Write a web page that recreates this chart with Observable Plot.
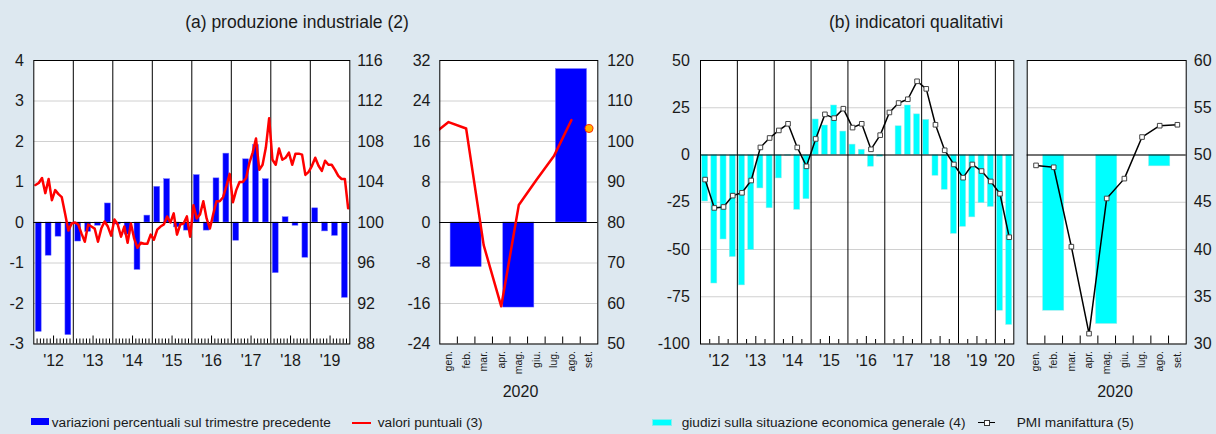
<!DOCTYPE html>
<html><head><meta charset="utf-8">
<script src="https://cdn.jsdelivr.net/npm/d3@7"></script>
<script src="https://cdn.jsdelivr.net/npm/@observablehq/plot@0.6"></script>
<style>
body{margin:0;background:#dde8f0;}
#root{position:relative;width:1216px;height:434px;background:#dde8f0;font-family:"Liberation Sans",Arial,Helvetica,sans-serif;color:#1a1a1a;overflow:hidden}
.abs{position:absolute;white-space:nowrap}
.title{font-size:17.5px;top:11px;line-height:22px;transform:translateX(-50%)}
.leg{font-size:13.7px;line-height:16px;top:414.7px}
.yr{font-size:16px;line-height:20px;top:381.7px;transform:translateX(-50%)}
</style></head><body><div id="root">
<div class="abs title" style="left:297px">(a) produzione industriale (2)</div>
<div class="abs title" style="left:916px">(b) indicatori qualitativi</div>
<div class="abs" id="p1" style="left:0;top:45px"></div>
<div class="abs" id="p2" style="left:395px;top:45px"></div>
<div class="abs" id="p3" style="left:650px;top:45px"></div>
<div class="abs" id="p4" style="left:1020px;top:45px"></div>
<div class="abs yr" style="left:520.5px">2020</div>
<div class="abs yr" style="left:1115px">2020</div>
<div class="abs" style="left:31px;top:418.3px;width:18.3px;height:6.7px;background:#0000ff"></div>
<div class="abs leg" style="left:51.7px">variazioni percentuali sul trimestre precedente</div>
<div class="abs" style="left:351.7px;top:422.3px;width:19px;height:2px;background:#ff0000"></div>
<div class="abs leg" style="left:377.7px">valori puntuali (3)</div>
<div class="abs" style="left:652.3px;top:419px;width:17.4px;height:5.4px;background:#00ffff;border:0.6px solid #8ee"></div>
<div class="abs leg" style="left:681.7px">giudizi sulla situazione economica generale (4)</div>
<div class="abs" style="left:978.3px;top:422.2px;width:16.7px;height:1.2px;background:#000"></div>
<div class="abs" style="left:984px;top:420px;width:4.4px;height:4.4px;background:#fff;border:0.8px solid #333"></div>
<div class="abs leg" style="left:1016.7px">PMI manifattura (5)</div>
</div>
<script>
// ---- data ----
const years1 = ["'12","'13","'14","'15","'16","'17","'18","'19"];
const years3 = ["'12","'13","'14","'15","'16","'17","'18","'19","'20"];
const months2020 = ["gen.","feb.","mar.","apr.","mag.","giu.","lug.","ago.","set."];

// production index, monthly 2012-2019 (right axis)
const prodMonthly = [
103.7,103.9,104.4,102.9,104.3,102.2,103.2,102.8,102.5,100.9,99.2,99.9,
100.0,99.8,98.9,98.1,99.8,99.6,99.4,98.1,99.4,100.1,99.6,98.7,
100.3,99.8,98.6,99.6,98.0,99.9,98.4,97.5,98.0,97.9,97.9,98.8,
98.3,99.3,99.6,99.8,100.6,100.0,100.9,98.8,99.8,99.9,100.6,98.6,
101.7,100.4,100.8,102.1,100.4,99.4,100.8,102.1,102.1,102.5,103.6,104.8,
102.0,103.2,104.0,104.0,104.4,105.9,106.9,108.3,105.2,105.7,107.4,110.3,
106.2,105.7,107.3,106.2,106.4,106.9,105.7,106.8,106.8,106.7,104.7,105.0,
105.6,106.4,105.6,105.1,106.1,105.7,105.7,105.2,104.6,104.3,104.3,101.4];
// quarter-on-quarter % change 2012-2019 (left axis)
const prodQuarterly = [
-2.70,-0.82,-0.35,-2.78, -0.47,-0.23,-0.08,0.47, -0.05,-0.30,-1.17,0.17,
0.88,1.07,-0.12,-0.20, 1.17,-0.20,1.09,1.70, -0.45,1.56,1.91,1.07,
-1.25,0.13,-0.08,-0.87, 0.35,-0.22,-0.33,-1.86];
// 2020: dic 2019 + gen..ago monthly index, set. estimate, quarterly change
const prod2020Monthly = [101.4,104.8,103.2,74.4,59.3,84.3,90.5,96.4,105.3];
const prod2020Sept = [103.2];
const prod2020Quarterly = [-8.8,-16.8,30.3];

// qualitative indicators 2012Q1-2020Q2
const giudiziQuarterly = [
-24.6,-68,-44.7,-54, -69,-50.3,-17.7,-28.2, -12.4,-0.5,-29,-23.4,
18.8,15.6,26.2,12.4, 5.5,2.8,-6.2,-0.9, 0,15.2,26.2,21.5,
18.6,-11,-18.4,-41.7, -38,-33,-25.5,-27.5, -82.4,-89.9];
const pmiQuarterly = [
47.4,44.4,44.5,45.7, 46.0,47.3,50.8,51.8, 52.6,53.3,50.8,48.8,
51.7,54.3,53.9,54.9, 52.9,53.3,50.6,52.1, 54.5,55.5,55.9,57.8,
57.0,53.2,50.5,49.0, 47.6,49.0,48.3,47.2, 45.9,41.3];
const giudizi2020 = [-82.4,-89.4,-6.0];
const pmi2020Monthly = [48.9,48.7,40.3,31.1,45.4,47.5,51.9,53.1,53.2];

// ---- layout ----
const FONT = '"Liberation Sans", Arial, Helvetica, sans-serif';
const H = 360, MT = 15, MB = 61.5, innerH = H - MT - MB;
const style = {fontFamily: FONT, fontSize: "16px", color: "#1a1a1a", background: "transparent", overflow: "visible"};
const GRID = "#d0d0d0";
const fmt = d => String(d);

// ---- panel 1 ----
{
  const line = prodMonthly.map((v,i)=>({x:i+0.5, y:(v-100)/4}));
  const bars = prodQuarterly.map((v,q)=>({x1:q*3, x2:q*3+3, y:v}));
  const bounds = d3.range(1, years1.length).map(k=>k*12);
  const ticksShort = d3.range(1,96).filter(i=>i%12!==0 && i%12!==6);
  const ticksTall = d3.range(1,96).filter(i=>i%12===6);
  const yt = d3.range(-3,5);
  const svg = Plot.plot({
    width:395, height:H, marginLeft:33.3, marginRight:45.7, marginTop:MT, marginBottom:MB,
    style, x:{domain:[0,96]}, y:{domain:[-3,4]},
    marks:[
      Plot.frame({fill:"white", stroke:null}),
      Plot.ruleY(yt, {stroke:GRID}),
      Plot.rectY(bars, {x1:"x1", x2:"x2", y1:d=>0, y2:"y", fill:"#0000ff", stroke:"#7070ff", strokeWidth:0.5, insetLeft:2, insetRight:2}),
      Plot.ruleX(bounds, {stroke:"black"}),
      Plot.ruleY([0], {stroke:"black"}),
      Plot.tickX(ticksShort, {x:d=>d, stroke:"black", insetTop:innerH-5}),
      Plot.tickX(ticksTall, {x:d=>d, stroke:"black", insetTop:innerH-8}),
      Plot.line(line, {x:"x", y:"y", stroke:"#ff0000", strokeWidth:2.5}),
      Plot.axisY({anchor:"left", ticks:yt, tickSize:0, tickPadding:10, tickFormat:fmt, label:null}),
      Plot.axisY({anchor:"right", ticks:yt, tickSize:0, tickPadding:7.4, tickFormat:d=>String(100+4*d), label:null}),
      Plot.axisX({ticks:years1.map((_,k)=>k*12+6), tickFormat:d=>years1[(d-6)/12], tickSize:0, tickPadding:11, label:null}),
      Plot.frame({stroke:"black"})
    ]
  });
  document.getElementById("p1").append(svg);
}

// ---- panel 2 ----
{
  const line = prod2020Monthly.map((v,i)=>({x:i-0.5, y:(v-80)/1.25}));
  const dot = prod2020Sept.map(v=>({x:8.5, y:(v-80)/1.25}));
  const bars = prod2020Quarterly.map((v,q)=>({x1:q*3, x2:q*3+3, y:v}));
  const yt = d3.range(-24,33,8);
  const svg = Plot.plot({
    width:245, height:H, marginLeft:44.3, marginRight:42.7, marginTop:MT, marginBottom:MB,
    style, x:{domain:[0,9]}, y:{domain:[-24,32]},
    marks:[
      Plot.frame({fill:"white", stroke:null}),
      Plot.ruleY(yt, {stroke:GRID}),
      Plot.rectY(bars, {x1:"x1", x2:"x2", y1:d=>0, y2:"y", fill:"#0000ff", stroke:"#7070ff", strokeWidth:0.5, insetLeft:10.8, insetRight:10.8}),
      Plot.ruleY([0], {stroke:"black"}),
      Plot.tickX(d3.range(1,9), {x:d=>d, stroke:"black", insetTop:innerH-7}),
      Plot.line(line, {x:"x", y:"y", stroke:"#ff0000", strokeWidth:2.5, clip:true}),
      Plot.dot(dot, {x:"x", y:"y", r:4, fill:"#ffb400", stroke:"#ff2a00", strokeWidth:1}),
      Plot.axisY({anchor:"left", ticks:yt, tickSize:0, tickPadding:9.3, tickFormat:fmt, label:null}),
      Plot.axisY({anchor:"right", ticks:yt, tickSize:0, tickPadding:9.4, tickFormat:d=>String(80+1.25*d), label:null}),
      Plot.axisX({ticks:months2020.map((_,i)=>i+0.5), tickFormat:d=>months2020[d-0.5], tickRotate:-90, fontSize:10.5, tickSize:0, tickPadding:7, label:null}),
      Plot.frame({stroke:"black"})
    ]
  });
  document.getElementById("p2").append(svg);
}

// ---- panel 3 ----
{
  const bars = giudiziQuarterly.map((v,q)=>({x1:q*3, x2:q*3+3, y:v}));
  const pmi = pmiQuarterly.map((v,q)=>({x:q*3+1.5, y:(v-50)*5}));
  const bounds = d3.range(1, years3.length).map(k=>k*12);
  const ticksShort = d3.range(3,102,3).filter(i=>i%12!==0 && i%12!==6);
  const ticksTall = d3.range(3,102,3).filter(i=>i%12===6);
  const yt = d3.range(-100,51,25);
  const svg = Plot.plot({
    width:370, height:H, marginLeft:50, marginRight:6.7, marginTop:MT, marginBottom:MB,
    style, x:{domain:[0,102]}, y:{domain:[-100,50]},
    marks:[
      Plot.frame({fill:"white", stroke:null}),
      Plot.ruleY(yt, {stroke:GRID}),
      Plot.rectY(bars, {x1:"x1", x2:"x2", y1:d=>0, y2:"y", fill:"#00ffff", stroke:"#a0e8e8", strokeWidth:0.5, insetLeft:1.6, insetRight:1.6}),
      Plot.ruleX(bounds, {stroke:"black"}),
      Plot.ruleY([0], {stroke:"black"}),
      Plot.tickX(ticksShort, {x:d=>d, stroke:"black", insetTop:innerH-4.5}),
      Plot.tickX(ticksTall, {x:d=>d, stroke:"black", insetTop:innerH-7.5}),
      Plot.line(pmi, {x:"x", y:"y", stroke:"black", strokeWidth:1.5}),
      Plot.dot(pmi, {x:"x", y:"y", symbol:"square", r:2.6, fill:"white", stroke:"#444", strokeWidth:1}),
      Plot.axisY({anchor:"left", ticks:yt, tickSize:0, tickPadding:10.7, tickFormat:fmt, label:null}),
      Plot.axisX({ticks:years3.map((_,k)=>k<8 ? k*12+6 : 99), tickFormat:d=>years3[d===99 ? 8 : (d-6)/12], tickSize:0, tickPadding:11, label:null}),
      Plot.frame({stroke:"black"})
    ]
  });
  document.getElementById("p3").append(svg);
}

// ---- panel 4 ----
{
  const bars = giudizi2020.map((v,q)=>({x1:q*3, x2:q*3+3, y:v}));
  const pmi = pmi2020Monthly.map((v,i)=>({x:i+0.5, y:(v-50)*5}));
  const yt = d3.range(-100,51,25);
  const svg = Plot.plot({
    width:196, height:H, marginLeft:6.7, marginRight:30.3, marginTop:MT, marginBottom:MB,
    style, x:{domain:[0,9]}, y:{domain:[-100,50]},
    marks:[
      Plot.frame({fill:"white", stroke:null}),
      Plot.ruleY(yt, {stroke:GRID}),
      Plot.rectY(bars, {x1:"x1", x2:"x2", y1:d=>0, y2:"y", fill:"#00ffff", stroke:"#a0e8e8", strokeWidth:0.5, insetLeft:15.9, insetRight:15.9}),
      Plot.ruleY([0], {stroke:"black"}),
      Plot.tickX(d3.range(1,9), {x:d=>d, stroke:"black", insetTop:innerH-8}),
      Plot.line(pmi, {x:"x", y:"y", stroke:"black", strokeWidth:1.5}),
      Plot.dot(pmi, {x:"x", y:"y", symbol:"square", r:2.6, fill:"white", stroke:"#444", strokeWidth:1}),
      Plot.axisY({anchor:"right", ticks:yt, tickSize:0, tickPadding:7.6, tickFormat:d=>String(50+d/5), label:null}),
      Plot.axisX({ticks:months2020.map((_,i)=>i+0.5), tickFormat:d=>months2020[d-0.5], tickRotate:-90, fontSize:10.5, tickSize:0, tickPadding:7, label:null}),
      Plot.frame({stroke:"black"})
    ]
  });
  document.getElementById("p4").append(svg);
}
</script>
</body></html>
